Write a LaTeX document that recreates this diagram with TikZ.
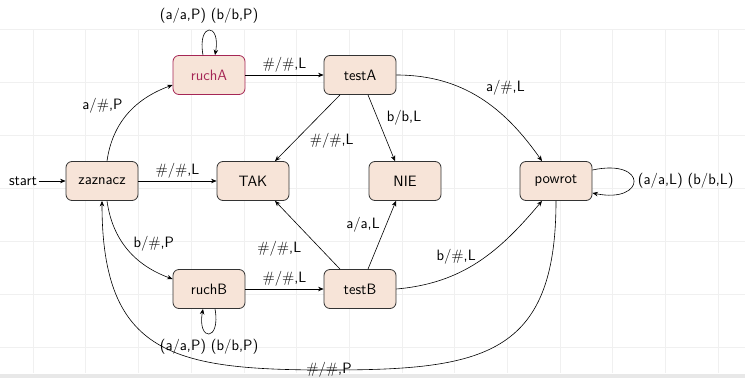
\documentclass[tikz,border=0pt]{standalone}
\usepackage{fontspec}
\usetikzlibrary{arrows.meta}
\definecolor{nodefill}{RGB}{247,228,216}
\definecolor{alertc}{RGB}{165,38,85}
\definecolor{gridc}{RGB}{240,240,240}
\begin{document}
\begin{tikzpicture}[x=1pt,y=1pt,
  font=\sffamily\fontsize{15}{18}\selectfont,
  state/.style={draw=black!80, fill=nodefill, rounded corners=6pt, minimum width=72pt, minimum height=39pt, line width=0.8pt, inner sep=2pt},
  edge/.style={-{Stealth[length=5.5pt,width=4.5pt]}, line width=0.6pt},
  lbl/.style={inner sep=2pt}
]
\useasboundingbox (0,0) rectangle (745,-378);
\foreach \i in {0,...,13} \draw[gridc, line width=0.6pt] ({33+52.7*\i},-29) -- ({33+52.7*\i},-373);
\foreach \j in {0,...,6} \draw[gridc, line width=0.6pt] (0,{-29-53*\j}) -- (745,{-29-53*\j});
\fill[gray!18] (0,-374) rectangle (745,-378);

\node[state] (zaznacz) at (102,-181) {zaznacz};
\node[state] (TAK) at (253,-181) {TAK};
\node[state] (NIE) at (405,-181) {NIE};
\node[state] (powrot) at (556,-181) {powrot};
\node[state, draw=alertc, text=alertc] (ruchA) at (209,-75) {ruchA};
\node[state] (testA) at (360,-75) {testA};
\node[state] (ruchB) at (209,-289) {ruchB};
\node[state] (testB) at (360,-289) {testB};
\node[lbl] (start) at (23,-181) {start};
\coordinate (bot) at (329,-370);

\draw[edge] (start) -- (zaznacz);
\draw[edge] ([xshift=5pt]zaznacz.north) to[out=82,in=200]
  node[lbl, pos=0.45, above left, yshift=2pt] {a/\#,P} ([yshift=-10pt]ruchA.west);
\draw[edge] ([xshift=-6pt]ruchA.north) .. controls +(-6,33) and +(6,33) ..
  node[lbl, above, yshift=5pt] {(a/a,P) (b/b,P)} ([xshift=6pt]ruchA.north);
\draw[edge] (ruchA) -- node[lbl, above] {\#/\#,L} (testA);
\draw[edge] ([xshift=-20pt]testA.south) -- node[lbl, below right, yshift=-3pt] {\#/\#,L} ([xshift=22pt]TAK.north);
\draw[edge] ([xshift=8pt]testA.south) -- node[lbl, above right, xshift=3pt] {b/b,L} ([xshift=-10pt]NIE.north);
\draw[edge] (testA.east) to[out=0,in=125] node[lbl, pos=0.5, above right, xshift=4pt] {a/\#,L} ([xshift=-14pt]powrot.north);
\draw[edge] ([yshift=11pt]powrot.east) .. controls +(56,12) and +(54,-11) ..
  node[lbl, right, xshift=2pt] {(a/a,L) (b/b,L)} ([yshift=-12pt]powrot.east);
\draw[edge] (zaznacz) -- node[lbl, above] {\#/\#,L} (TAK);
\draw[edge] ([xshift=5pt]zaznacz.south) to[out=-82,in=160]
  node[lbl, pos=0.55, above right] {b/\#,P} ([yshift=10pt]ruchB.west);
\draw[edge] ([xshift=6pt]ruchB.south) .. controls +(6,-33) and +(-6,-33) ..
  node[lbl, below, inner sep=1pt, yshift=-4pt] {(a/a,P) (b/b,P)} ([xshift=-6pt]ruchB.south);
\draw[edge] (ruchB) -- node[lbl, above] {\#/\#,L} (testB);
\draw[edge] ([xshift=-20pt]testB.north) -- node[lbl, below left, xshift=-4pt, yshift=-4pt] {\#/\#,L} ([xshift=22pt]TAK.south);
\draw[edge] ([xshift=8pt]testB.north) -- node[lbl, above left] {a/a,L} ([xshift=-9pt]NIE.south);
\draw[edge] (testB.east) to[out=5,in=230] node[lbl, pos=0.5, above left, yshift=-5pt] {b/\#,L} ([xshift=-14pt]powrot.south);
\draw[edge] (powrot.south) to[out=-90,in=0,looseness=1.4] (bot)
  to[out=180,in=-90,looseness=1.4] (zaznacz.south);
\node[lbl] at (bot) {\#/\#,P};
\end{tikzpicture}
\end{document}
